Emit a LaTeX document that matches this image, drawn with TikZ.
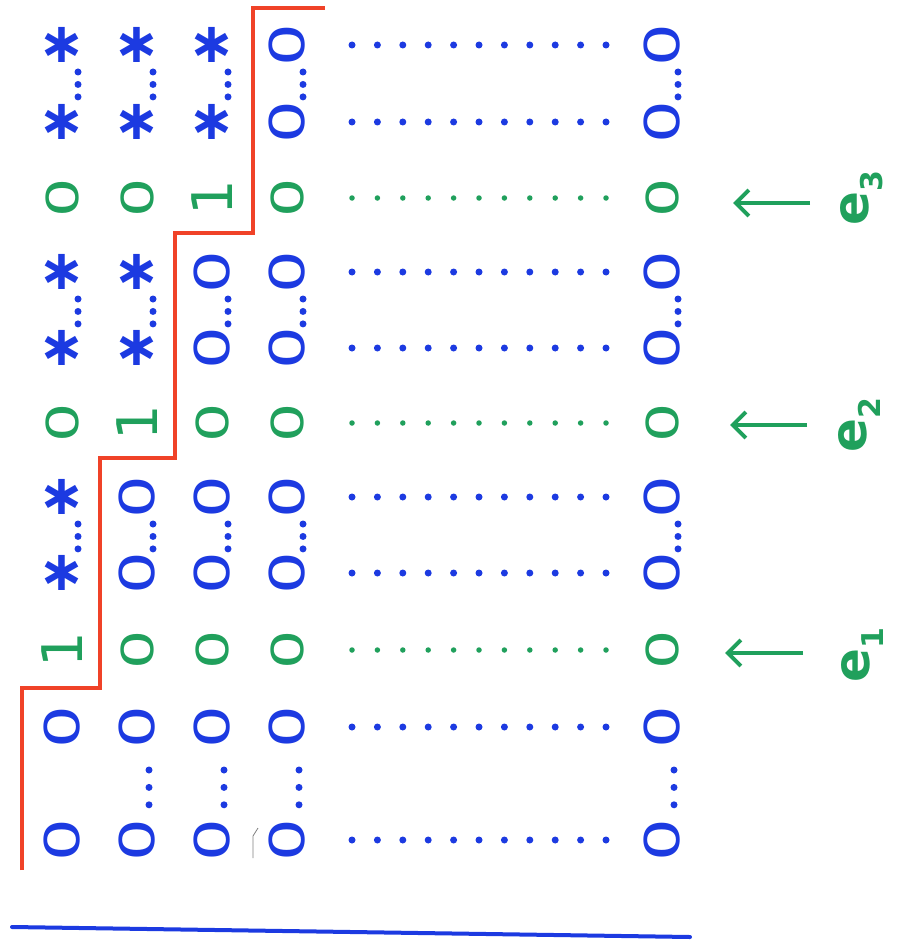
\documentclass[tikz,border=0pt]{standalone}
\usepackage{fontspec}
\newfontfamily\mk{DejaVu Sans}
\usetikzlibrary{arrows.meta}
\definecolor{mblue}{RGB}{28,58,225}
\definecolor{mgreen}{RGB}{32,160,92}
\definecolor{mred}{RGB}{240,66,40}
\begin{document}
\begin{tikzpicture}[x=1pt,y=-1pt,
  zb/.style={text=mblue,font=\mk\fontsize{48}{48}\selectfont,rotate=90,inner sep=0pt,node contents={\scalebox{1.4}[1]{0}}},
  zg/.style={text=mgreen,font=\mk\fontsize{44}{44}\selectfont,rotate=90,inner sep=0pt,node contents={\scalebox{1.4}[1]{0}}},
  og/.style={text=mgreen,font=\mk\fontsize{56}{56}\selectfont,rotate=90,inner sep=0pt,node contents={1}},
  st/.style={text=mblue,font=\mk\bfseries\fontsize{56}{56}\selectfont,inner sep=0pt,node contents={\raisebox{-0.22em}{∗}}},
  hdb/.style={draw=mblue,line width=7pt,line cap=round,dash pattern=on 0pt off 25.4pt},
  hdg/.style={draw=mgreen,line width=5.5pt,line cap=round,dash pattern=on 0pt off 25.4pt},
  vd/.style={draw=mblue,line width=7pt,line cap=round,dash pattern=on 0pt off #1},
  lab/.style={text=mgreen,font=\mk\bfseries\fontsize{50}{50}\selectfont,rotate=90,inner sep=0pt},
  arr/.style={draw=mgreen,line width=4pt,-{Straight Barb[length=13pt,width=26pt,line width=4pt]}},
  stair/.style={draw=mred,line width=4pt},
  base/.style={draw=mblue,line width=4pt,line cap=round}]
\fill[white] (0,0) rectangle (898,952);
\useasboundingbox (0,0) rectangle (898,952);
% matrix entries
\foreach \r/\y/\a/\b/\c/\d/\e in {
  1/45/st/st/st/zb/zb, 2/122/st/st/st/zb/zb, 3/198/zg/zg/og/zg/zg,
  4/272/st/st/zb/zb/zb, 5/348/st/st/zb/zb/zb, 6/423/zg/og/zg/zg/zg,
  7/497/st/zb/zb/zb/zb, 8/573/st/zb/zb/zb/zb, 9/650/og/zg/zg/zg/zg,
  10/727/zb/zb/zb/zb/zb, 11/840/zb/zb/zb/zb/zb}{
  \node[\a,name=n\r-1,at={(62,\y)}];
  \node[\b,name=n\r-2,at={(137,\y)}];
  \node[\c,name=n\r-3,at={(212,\y)}];
  \node[\d,name=n\r-4,at={(287,\y)}];
  \node[\e,name=n\r-5,at={(662,\y)}];
}
% horizontal dots
\foreach \r in {1,2,4,5,7,8,10,11}{
  \draw[hdb] ([xshift=65pt]n\r-4.center) -- ([xshift=-32pt]n\r-5.center);}
\foreach \r in {3,6,9}{
  \draw[hdg] ([xshift=65pt]n\r-4.center) -- ([xshift=-32pt]n\r-5.center);}
% vertical dots
\foreach \u/\l in {1/2,4/5,7/8}{
  \foreach \c in {1,...,5}{
    \draw[vd=12.45pt] ([xshift=16pt,yshift=-27pt]n\u-\c.center) -- ([xshift=16pt,yshift=24pt]n\l-\c.center);}}
\foreach \c in {2,...,5}{
  \draw[vd=17.4pt] ([xshift=12pt,yshift=-43pt]n10-\c.center) -- ([xshift=12pt,yshift=35pt]n11-\c.center);}
% staircase
\coordinate (s0) at (22,870);
\coordinate (s1) at (325,8);
\draw[stair] (s0) |- (100,688) |- (175,458) |- (253,233) |- (s1);
% labels and arrows
\node[lab] (e3) at (862,198) {e\raisebox{-0.28em}{\fontsize{30}{30}\selectfont 3}};
\node[lab] (e2) at (859,425) {e\raisebox{-0.28em}{\fontsize{30}{30}\selectfont 2}};
\node[lab] (e1) at (862,655) {e\raisebox{-0.28em}{\fontsize{30}{30}\selectfont 1}};
\coordinate (t3) at (810,203);
\coordinate (t2) at (807,425);
\coordinate (t1) at (803,653);
\coordinate (h3) at (733,203);
\coordinate (h2) at (730,425);
\coordinate (h1) at (725,653);
\draw[arr] (t3) -- (h3);
\draw[arr] (t2) -- (h2);
\draw[arr] (t1) -- (h1);
% stray pencil mark
\draw[gray,line width=0.8pt] (258,828) -- (253,836) -- (253,858);
% base line
\coordinate (b0) at (12,927);
\coordinate (b1) at (690,937);
\draw[base] (b0) -- (b1);
\end{tikzpicture}
\end{document}
